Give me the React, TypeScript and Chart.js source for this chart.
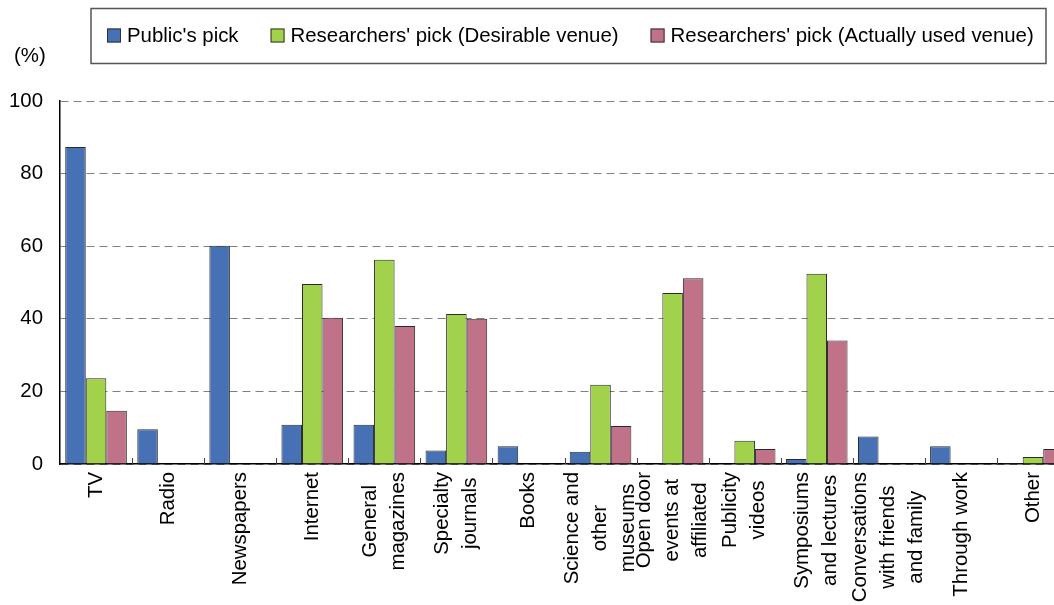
import React, { useEffect, useRef } from "react";
import { Chart, registerables } from "chart.js";

Chart.register(...registerables);

// ---- data ----
const categories: string[][] = [
  ["TV"],
  ["Radio"],
  ["Newspapers"],
  ["Internet"],
  ["General", "magazines"],
  ["Specialty", "journals"],
  ["Books"],
  ["Science and", "other", "museums"],
  ["Open door", "events at", "affiliated"],
  ["Publicity", "videos"],
  ["Symposiums", "and lectures"],
  ["Conversations", "with friends", "and family"],
  ["Through work"],
  ["Other"],
];

const publicPick: (number | null)[] = [87.3, 9.6, 60.1, 10.8, 10.8, 3.7, 4.9, 3.4, null, null, 1.4, 7.6, 4.9, 0.3];
const desirableVenue: (number | null)[] = [23.6, null, null, 49.6, 56.3, 41.3, null, 21.8, 47.1, 6.4, 52.4, null, null, 1.9];
const actuallyUsedVenue: (number | null)[] = [14.7, null, null, 40.3, 38.0, 40.0, null, 10.5, 51.2, 4.1, 34.0, null, null, 4.1];

const yTicks = [0, 20, 40, 60, 80, 100];
const seriesNames = [
  "Public's pick",
  "Researchers' pick (Desirable venue)",
  "Researchers' pick (Actually used venue)",
];
const seriesColors = ["#4672B5", "#A2D14B", "#BF7288"];
const unitLabel = "(%)";

const FONT_FAMILY = "'Liberation Sans', Arial, Helvetica, sans-serif";
const FONT_SIZE = 20.4;

const decorPlugin = {
  id: "decor",
  afterDraw(chart: any) {
    const ctx: CanvasRenderingContext2D = chart.ctx;
    const xs = chart.scales.x;
    const area = chart.chartArea;
    ctx.save();

    // inner tick marks at category boundaries
    ctx.strokeStyle = "#404040";
    ctx.lineWidth = 1;
    for (let i = 1; i <= categories.length; i++) {
      const x = Math.round(xs.getPixelForValue(i - 0.5)) + 0.5;
      ctx.beginPath();
      ctx.moveTo(x, area.bottom - 6);
      ctx.lineTo(x, area.bottom);
      ctx.stroke();
    }

    // x category labels: rotated, lines centred as a block
    ctx.font = `${FONT_SIZE}px ${FONT_FAMILY}`;
    ctx.fillStyle = "#000";
    ctx.textAlign = "center";
    ctx.textBaseline = "middle";
    const lineGap = 28;
    categories.forEach((lines, i) => {
      const cx = xs.getPixelForValue(i);
      const maxW = Math.max(...lines.map((l) => ctx.measureText(l).width));
      const cy = area.bottom + 8 + maxW / 2;
      lines.forEach((line, j) => {
        const off = (j - (lines.length - 1) / 2) * lineGap;
        ctx.save();
        ctx.translate(cx + off, cy);
        ctx.rotate(-Math.PI / 2);
        ctx.fillText(line, 0, 0);
        ctx.restore();
      });
    });

    // unit label
    ctx.textAlign = "left";
    ctx.fillText(unitLabel, 14, 56);

    // legend box
    const bx = 91, by = 8.5, bw = 955, bh = 55;
    ctx.fillStyle = "#fff";
    ctx.fillRect(bx, by, bw, bh);
    ctx.strokeStyle = "#555";
    ctx.lineWidth = 1.5;
    ctx.strokeRect(bx, by, bw, bh);
    let x = 107;
    const cyL = 35.5;
    chart.data.datasets.forEach((ds: any) => {
      ctx.fillStyle = ds.backgroundColor;
      ctx.fillRect(x, cyL - 7, 14, 14);
      ctx.strokeStyle = "#333";
      ctx.lineWidth = 1;
      ctx.strokeRect(x + 0.5, cyL - 6.5, 13, 13);
      ctx.fillStyle = "#000";
      ctx.textAlign = "left";
      ctx.textBaseline = "middle";
      ctx.fillText(ds.label, x + 20, cyL + 1);
      x += 20 + ctx.measureText(ds.label).width + 32;
    });

    ctx.restore();
  },
};

export default function App() {
  const canvasRef = useRef<HTMLCanvasElement | null>(null);

  useEffect(() => {
    const canvas = canvasRef.current;
    if (!canvas) return;
    const seriesValues = [publicPick, desirableVenue, actuallyUsedVenue];
    const chart = new Chart(canvas, {
      type: "bar",
      data: {
        labels: categories.map((c) => c.join(" ")),
        datasets: seriesValues.map((vals, k) => ({
          label: seriesNames[k],
          data: vals,
          backgroundColor: seriesColors[k],
          borderColor: "#2b2b2b",
          borderWidth: 1,
          barPercentage: 1,
          categoryPercentage: 0.855,
        })),
      },
      options: {
        animation: false,
        responsive: true,
        maintainAspectRatio: false,
        devicePixelRatio: 1,
        layout: { padding: { left: 0, right: 11, top: 101, bottom: 0 } },
        plugins: {
          legend: { display: false },
          tooltip: { enabled: false },
          title: { display: false },
        },
        scales: {
          x: {
            type: "category",
            offset: true,
            z: 1,
            grid: { display: false },
            border: { display: true, color: "#000", width: 1.5 },
            ticks: { display: false },
            afterFit: (scale: any) => {
              scale.height = 141;
            },
          },
          y: {
            min: 0,
            max: 100,
            afterBuildTicks: (scale: any) => {
              scale.ticks = yTicks.map((v) => ({ value: v }));
            },
            grid: {
              color: "#808080",
              lineWidth: 1,
              drawTicks: false,
            },
            border: { display: true, color: "#000", width: 1.5, dash: [8, 5] },
            ticks: {
              color: "#000",
              padding: 17,
              font: { family: FONT_FAMILY, size: FONT_SIZE },
            },
            afterFit: (scale: any) => {
              scale.width = 60;
            },
          },
        },
      },
      plugins: [decorPlugin],
    } as any);
    return () => chart.destroy();
  }, []);

  return (
    <div
      style={{
        position: "fixed",
        left: 0,
        top: 0,
        width: "1054px",
        height: "605px",
        overflow: "hidden",
        background: "#fff",
      }}
    >
      <div style={{ position: "relative", width: "1080px", height: "605px" }}>
        <canvas ref={canvasRef} />
      </div>
    </div>
  );
}
